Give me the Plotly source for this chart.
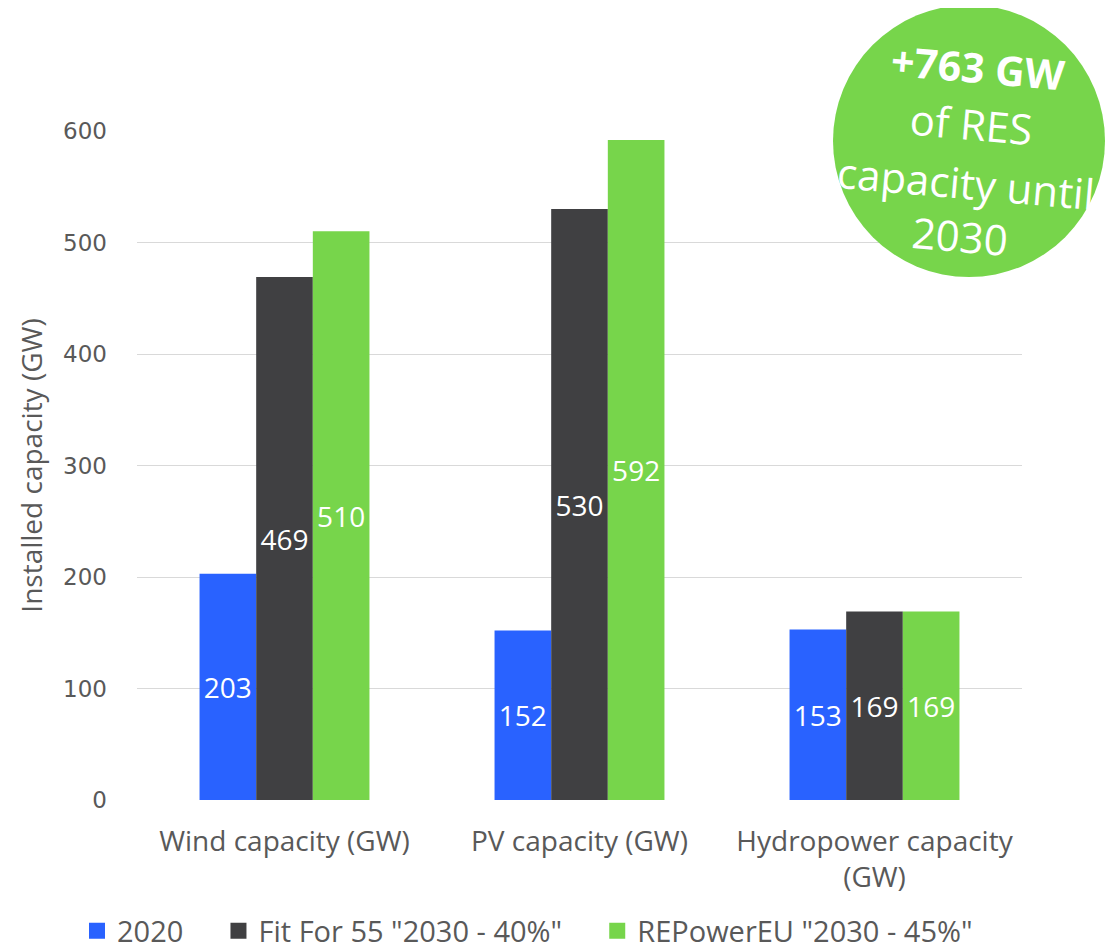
import plotly.graph_objects as go

categories = ["Wind capacity (GW)", "PV capacity (GW)", "Hydropower capacity<br>(GW)"]
series_names = ["2020", 'Fit For 55 "2030 - 40%"', 'REPowerEU "2030 - 45%"']
values_2020 = [203, 152, 153]
values_ff55 = [469, 530, 169]
values_repower = [510, 592, 169]
colors = ["#2962FF", "#404042", "#77D54B"]
y_ticks = [0, 100, 200, 300, 400, 500, 600]

OFF = 8  # page body margin offset
W, H = 1115 - OFF, 950 - OFF
SL, SR, ST, SB = 137, 1022, 131, 800
L, T = SL - OFF, ST - OFF
R = W - (SR - OFF)
B = H - (SB - OFF)
pw, ph = W - L - R, H - T - B

def px(x):
    return (x - OFF - L) / pw

def py(y):
    return (H - B - (y - OFF)) / ph

NB = "\u00a0" * 4
fig = go.Figure()
for name, vals, col in zip(series_names, [values_2020, values_ff55, values_repower], colors):
    fig.add_trace(go.Bar(
        name=name, x=categories, y=vals, marker_color=col, marker_line_width=0,
        legendgroup=name, showlegend=False,
        text=[str(v) for v in vals], textposition="inside", insidetextanchor="middle",
        textangle=0, textfont=dict(color="white", size=28, family="Open Sans"),
    ))
# legend entries with larger square swatches
for name, col in zip(series_names, colors):
    fig.add_trace(go.Scatter(
        name=name + NB, x=[None], y=[None], mode="markers", legendgroup=name,
        marker=dict(symbol="square", size=17, color=col, line=dict(width=0)),
        showlegend=True, hoverinfo="skip",
    ))

fig.update_layout(
    width=W, height=H,
    margin=dict(l=L, r=R, t=T, b=B, autoexpand=False),
    plot_bgcolor="white", paper_bgcolor="white",
    barmode="group", bargap=0.424, bargroupgap=0,
    font=dict(family="Open Sans", color="#595959"),
    legend=dict(orientation="h", x=px(77), xanchor="left", y=py(931), yanchor="middle",
                font=dict(size=29, color="#595959", family="Open Sans"),
                itemwidth=30, traceorder="normal"),
    showlegend=True,
)
fig.update_yaxes(range=[0, 600], tickvals=y_ticks, showgrid=True, gridcolor="#D9D9D9",
                 gridwidth=1.3, zeroline=False, showline=False, ticks="",
                 tickfont=dict(size=23, color="#595959", family="DejaVu Sans"),
                 ticklabelstandoff=29,
                 title=dict(text="Installed capacity (GW)", font=dict(size=28, color="#595959", family="Open Sans"), standoff=12))
fig.update_xaxes(showgrid=False, showline=False, ticks="",
                 ticklabelstandoff=22,
                 tickfont=dict(size=28, color="#595959", family="Open Sans"))

# green circle
fig.add_shape(type="circle", xref="paper", yref="paper",
              x0=px(833), x1=px(1105), y0=py(277), y1=py(5),
              fillcolor="#77D54B", line=dict(width=0), layer="above")

circle_lines = [
    ("<b>+763 GW</b>", 978, 67, 41),
    ("of RES", 971, 124, 42),
    ("capacity until", 966, 183, 42),
    ("2030", 960, 235, 42),
]
for txt, cx, cy, sz in circle_lines:
    fig.add_annotation(text=txt, xref="paper", yref="paper", x=px(cx), y=py(cy),
                       xanchor="center", yanchor="middle", showarrow=False,
                       textangle=5, font=dict(size=sz, color="white", family="Open Sans"))

fig.write_html("out.html")
